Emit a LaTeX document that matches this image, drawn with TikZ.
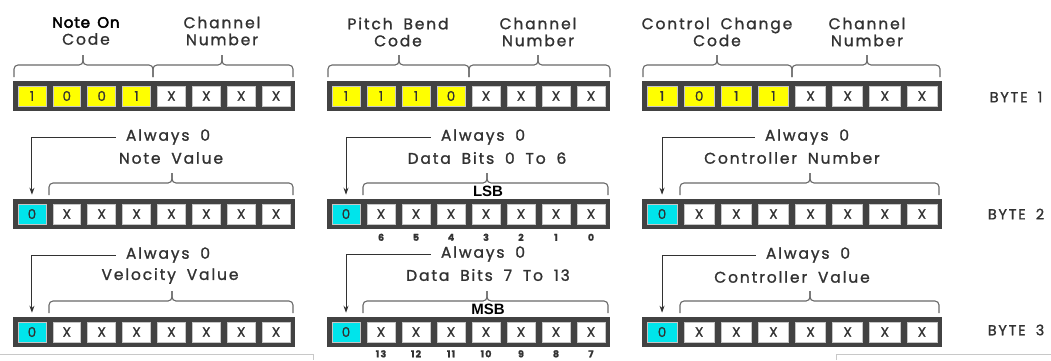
\documentclass[tikz,border=0pt]{standalone}
\usepackage{fontspec}
\setmainfont{Poppins}
\newfontfamily\lfont[LetterSpace=12,WordSpace=1.8,FakeBold=1.2]{Poppins}
\newfontfamily\nfont[LetterSpace=6,WordSpace=1.5,FakeBold=3]{Poppins}
\newfontfamily\hfont{Liberation Sans}
\usetikzlibrary{arrows.meta}
\definecolor{ink}{RGB}{50,50,50}
\definecolor{barc}{RGB}{66,66,66}
\definecolor{yel}{RGB}{255,255,0}
\definecolor{cya}{RGB}{0,228,235}
\definecolor{brc}{RGB}{105,105,105}
\definecolor{edge}{RGB}{200,200,200}
\tikzset{
  lbl/.style={text=ink, font=\lfont\fontsize{15.5}{17}\selectfont, inner sep=0pt, align=center},
  bitc/.style={draw=gray!45, line width=0.6pt, inner sep=0pt, minimum height=20pt,
    font=\lfont\fontsize{13.5}{14}\selectfont, text=ink},
  barbox/.style={fill=barc, inner sep=0pt, minimum height=30pt, anchor=north west},
  bracel/.style={draw=brc, line width=1.1pt, rounded corners=4pt},
  arr/.style={draw=ink, line width=1pt, -{Stealth[length=7pt,width=5pt]}},
  numl/.style={text=ink, font=\lfont\bfseries\fontsize{9.5}{10}\selectfont, inner sep=0pt},
  sbl/.style={text=black, font=\hfont\bfseries\fontsize{15}{16}\selectfont, inner sep=0pt},
  bytel/.style={text=ink, font=\lfont\fontsize{14.5}{16}\selectfont, inner sep=0pt},
}
\newcommand\bytebar[5]{%
  \pgfmathsetmacro\cw{(#4-59)/8}%
  \node[barbox, minimum width=#4pt] (#1) at (#2,#3) {};
  \foreach \f/\t [count=\i] in {#5} {
    \node[bitc, fill=\f, minimum width=\cw pt] (#1-\i) at ({#2+5+(\i-1)*(\cw+7)+\cw/2},{#3+15}) {\t};
  }
}
\newcommand\mbrace[4]{%
  \draw[bracel] (#1,#4-4) -- (#1,#4-16) -- (#3,#4-16) -- (#3,#4-26);
  \draw[bracel] (#2,#4-4) -- (#2,#4-16) -- (#3,#4-16) -- (#3,#4-26);
}
\begin{document}
\begin{tikzpicture}[x=1pt,y=-1pt]
\useasboundingbox[fill=white] (0,0) rectangle (1051,360);
% faint edges
\draw[edge, line width=0.8pt] (0,354) -- (313,354) -- (313,360);
\draw[edge, line width=0.8pt] (836,360) -- (836,354) -- (1051,354);

% ===== Row 1 =====
\bytebar{a1}{13}{81}{282}{yel/1,yel/0,yel/0,yel/1,white/X,white/X,white/X,white/X}
\bytebar{b1}{327}{81}{283}{yel/1,yel/1,yel/1,yel/0,white/X,white/X,white/X,white/X}
\bytebar{c1}{642}{81}{300}{yel/1,yel/0,yel/1,yel/1,white/X,white/X,white/X,white/X}
\mbrace{14}{153}{83}{81}
\mbrace{153}{293}{222}{81}
\mbrace{328}{469}{399}{81}
\mbrace{469}{610}{538}{81}
\mbrace{643}{792}{717}{81}
\mbrace{792}{940}{867}{81}
\node[lbl] (ta1) at (86,31) {{\nfont\color{black}\fontsize{15}{17}\selectfont Note On}\\Code};
\node[lbl] (ta2) at (222,31) {Channel\\Number};
\node[lbl] (tb1) at (398,32) {Pitch Bend\\Code};
\node[lbl] (tb2) at (538,32) {Channel\\Number};
\node[lbl] (tc1) at (717,32) {Control Change\\Code};
\node[lbl] (tc2) at (867,32) {Channel\\Number};
\node[bytel] (by1) at (1016,97) {BYTE 1};

% ===== Row 2 =====
\bytebar{a2}{13}{199}{282}{cya/0,white/X,white/X,white/X,white/X,white/X,white/X,white/X}
\bytebar{b2}{327}{199}{283}{cya/0,white/X,white/X,white/X,white/X,white/X,white/X,white/X}
\bytebar{c2}{642}{199}{300}{cya/0,white/X,white/X,white/X,white/X,white/X,white/X,white/X}
\mbrace{49}{293}{172}{199}
\mbrace{363}{608}{487}{199}
\mbrace{680}{939}{810}{199}
\node[lbl] (aa2) at (168,137) {Always 0};
\node[lbl] (va2) at (171,158) {Note Value};
\node[lbl] (ab2) at (483,137) {Always 0};
\node[lbl] (vb2) at (487,158) {Data Bits 0 To 6};
\node[lbl] (ac2) at (807,137) {Always 0};
\node[lbl] (vc2) at (792,158) {Controller Number};
\node[sbl] (lsb) at (488,191) {LSB};
\draw[arr, shorten >=9pt] ([xshift=-10pt]aa2.west) -| (a2-1.north);
\draw[arr, shorten >=9pt] ([xshift=-10pt]ab2.west) -| (b2-1.north);
\draw[arr, shorten >=9pt] ([xshift=-10pt]ac2.west) -| (c2-1.north);
\foreach \n [count=\i from 2] in {6,5,4,3,2,1,0}
  \node[numl] (nb2-\i) at ([yshift=-13pt]b2-\i.south) {\n};
\node[bytel] (by2) at (1016,214) {BYTE 2};

% ===== Row 3 =====
\bytebar{a3}{13}{317}{282}{cya/0,white/X,white/X,white/X,white/X,white/X,white/X,white/X}
\bytebar{b3}{327}{317}{283}{cya/0,white/X,white/X,white/X,white/X,white/X,white/X,white/X}
\bytebar{c3}{642}{317}{300}{cya/0,white/X,white/X,white/X,white/X,white/X,white/X,white/X}
\mbrace{49}{293}{172}{317}
\mbrace{363}{608}{487}{317}
\mbrace{680}{939}{810}{317}
\node[lbl] (aa3) at (168,255) {Always 0};
\node[lbl] (va3) at (170,276) {Velocity Value};
\node[lbl] (ab3) at (483,254) {Always 0};
\node[lbl] (vb3) at (488,275) {Data Bits 7 To 13};
\node[lbl] (ac3) at (808,255) {Always 0};
\node[lbl] (vc3) at (792,277) {Controller Value};
\node[sbl] (msb) at (488,309) {MSB};
\draw[arr, shorten >=9pt] ([xshift=-10pt]aa3.west) -| (a3-1.north);
\draw[arr, shorten >=9pt] ([xshift=-10pt]ab3.west) -| (b3-1.north);
\draw[arr, shorten >=9pt] ([xshift=-10pt]ac3.west) -| (c3-1.north);
\foreach \n [count=\i from 2] in {13,12,11,10,9,8,7}
  \node[numl] (nb3-\i) at ([yshift=-11.5pt]b3-\i.south) {\n};
\node[bytel] (by3) at (1016,330) {BYTE 3};
\end{tikzpicture}
\end{document}
